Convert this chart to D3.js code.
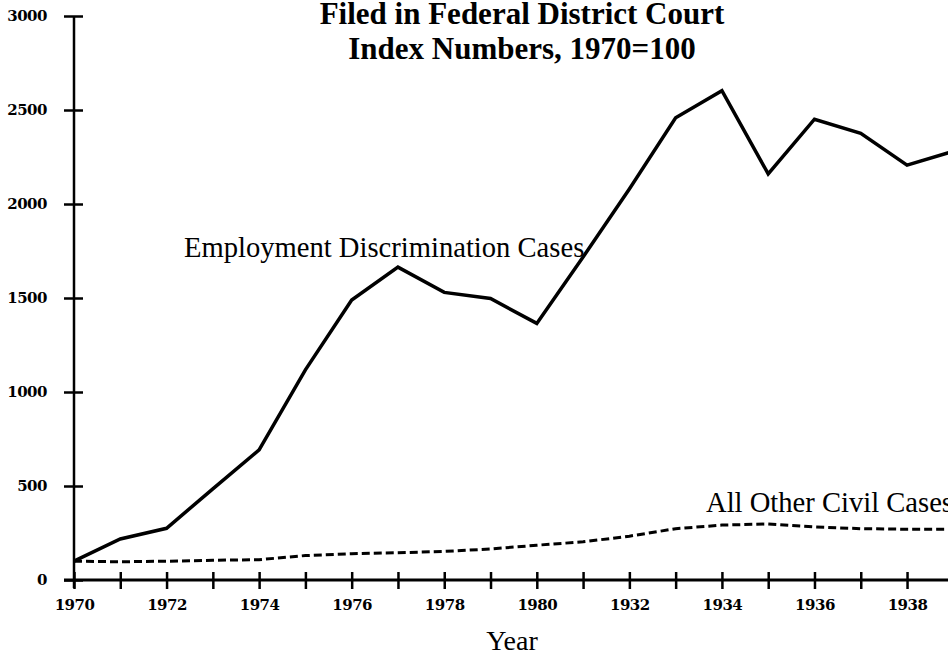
<!DOCTYPE html>
<html>
<head>
<meta charset="utf-8">
<script src="https://cdn.jsdelivr.net/npm/d3@7"></script>
<style>
  body { margin: 0; background: #fff; }
  svg { display: block; }
</style>
</head>
<body>
<svg id="chart" width="948" height="656"></svg>
<script>
// index numbers, 1970 = 100
var years = [1970, 1971, 1972, 1973, 1974, 1975, 1976, 1977, 1978, 1979,
  1980, 1981, 1982, 1983, 1984, 1985, 1986, 1987, 1988, 1989];
var employmentCases = [100, 218, 275, 485, 692, 1118, 1489, 1664, 1530, 1497,
  1365, 1718, 2080, 2459, 2603, 2160, 2451, 2376, 2207, 2280];
var otherCivilCases = [100, 97, 100, 105, 108, 130, 140, 145, 152, 165,
  185, 203, 233, 273, 292, 298, 282, 273, 270, 270];
var yTicks = [0, 500, 1000, 1500, 2000, 2500, 3000];
var xTickLabels = ['1970', '1972', '1974', '1976', '1978', '1980', '1932', '1934', '1936', '1938'];
var titleLines = ['Filed in Federal District Court', 'Index Numbers, 1970=100'];

!((function() {
  var svg = d3.select('#chart');
  var serif = '"Liberation Serif", "Times New Roman", serif';
  var tickFont = '"DejaVu Serif", serif';

  var x = d3.scaleLinear()
    .domain([1970, 1989])
    .range([74, 74 + 19 * 46.28]);
  var y = d3.scaleLinear()
    .domain([0, 3000])
    .range([580, 16]);

  // y axis: line plus ticks crossing it
  var yAxis = svg.append('g')
    .attr('transform', 'translate(74,0)')
    .call(d3.axisLeft(y).tickValues(yTicks).tickSize(10).tickSizeOuter(0).tickPadding(17)
      .tickFormat(d3.format('d')));
  yAxis.select('.domain').remove();
  yAxis.append('line')
    .attr('x1', 0).attr('x2', 0)
    .attr('y1', y(3000)).attr('y2', y(0) + 8)
    .attr('stroke', '#000').attr('stroke-width', 2.5);
  yAxis.selectAll('.tick line')
    .attr('x1', 9)
    .attr('stroke', '#000').attr('stroke-width', 2.5);
  yAxis.selectAll('.tick text')
    .style('font-family', tickFont)
    .style('font-size', '15px')
    .style('font-weight', 'bold')
    .style('letter-spacing', '-0.5px')
    .attr('fill', '#000');

  // x axis, ticks every year, labels every second year
  var xAxis = svg.append('g')
    .attr('transform', 'translate(0,580)')
    .call(d3.axisBottom(x).tickValues(d3.range(1970, 1989)).tickSize(9).tickSizeOuter(0)
      .tickPadding(10)
      .tickFormat(function(d) {
        var i = years.indexOf(d);
        return i % 2 === 0 ? xTickLabels[i / 2] : '';
      }));
  xAxis.select('.domain').remove();
  xAxis.append('line')
    .attr('x1', 64).attr('x2', 948)
    .attr('y1', 0).attr('y2', 0)
    .attr('stroke', '#000').attr('stroke-width', 3);
  xAxis.selectAll('.tick line')
    .attr('y1', -8)
    .attr('stroke', '#000').attr('stroke-width', 2.5);
  xAxis.selectAll('.tick text')
    .style('font-family', tickFont)
    .style('font-size', '15px')
    .style('font-weight', 'bold')
    .style('letter-spacing', '-0.5px')
    .attr('fill', '#000');

  var line = d3.line()
    .x(function(d, i) { return x(years[i]); })
    .y(function(d) { return y(d); });

  svg.append('path')
    .datum(otherCivilCases)
    .attr('d', line)
    .attr('fill', 'none')
    .attr('stroke', '#000')
    .attr('stroke-width', 3)
    .attr('stroke-dasharray', '8,4');

  svg.append('path')
    .datum(employmentCases)
    .attr('d', line)
    .attr('fill', 'none')
    .attr('stroke', '#000')
    .attr('stroke-width', 3.5)
    .attr('stroke-linejoin', 'miter');

  // title
  svg.append('g').selectAll('text')
    .data(titleLines)
    .enter().append('text')
      .attr('x', 522)
      .attr('y', function(d, i) { return 24 + i * 35; })
      .attr('text-anchor', 'middle')
      .style('font-family', serif)
      .style('font-size', '31px')
      .style('font-weight', 'bold')
      .text(function(d) { return d; });

  // series labels
  svg.append('text')
    .attr('x', 184).attr('y', 257)
    .style('font-family', serif)
    .style('font-size', '28.6px')
    .text('Employment Discrimination Cases');

  svg.append('text')
    .attr('x', 706).attr('y', 512)
    .style('font-family', serif)
    .style('font-size', '28.6px')
    .text('All Other Civil Cases');

  svg.append('text')
    .attr('x', 512).attr('y', 650)
    .attr('text-anchor', 'middle')
    .style('font-family', serif)
    .style('font-size', '28px')
    .text('Year');
})());
</script>
</body>
</html>
